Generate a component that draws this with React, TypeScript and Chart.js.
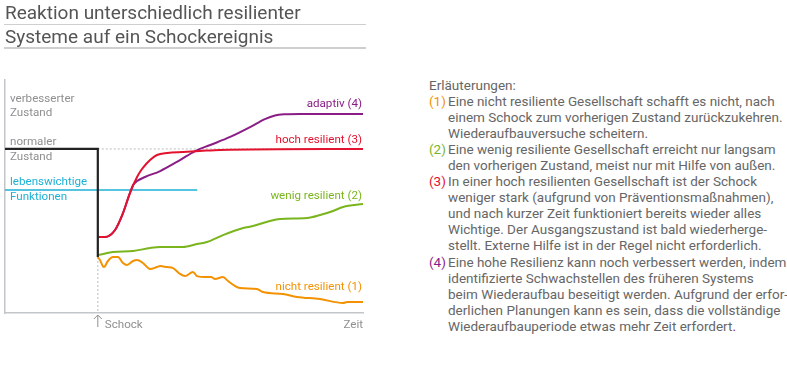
import React, { useEffect, useRef } from "react";
import { Chart, registerables } from "chart.js";

Chart.register(...registerables);

const FONT = "Roboto, 'Liberation Sans', sans-serif";

// Axes: time with the shock at 0 and the end at 100; state with the normal level at 100
const timeMin = -35;
const timeMax = 100;
const stateMin = 0;
const stateMax = 142;
const shockTime = 0;
const normalState = 100;
const shockFloor = 34.1;
const vitalLevel = 75;
const vitalEnd = 37.5;

// [time, state]
const adaptiv: [number, number][] = [
  [0, 46.3], [2.7, 46.3], [6.5, 50.6], [9.5, 60.9], [12.1, 73.1], [13.3, 78.0],
  [14.8, 80.4], [17.8, 82.9], [23.5, 86.5], [31.0, 93.2], [36.7, 98.7], [42.4, 102.4],
  [49.9, 107.3], [57.4, 113.3], [63.0, 118.2], [66.8, 120.4], [70.6, 121.1],
  [76.2, 121.3], [100, 121.3],
];
const hochResilient: [number, number][] = [
  [0, 46.3], [2.7, 46.3], [6.5, 50.6], [9.5, 60.9], [12.1, 73.1], [14.8, 82.9],
  [15.9, 85.9], [17.0, 88.4], [19.7, 93.2], [22.3, 96.3], [26.2, 97.5], [32.1, 98.1],
  [38.5, 98.7], [46.1, 99.4], [100, 100],
];
const wenigResilient: [number, number][] = [
  [0, 35.3], [2.0, 36.0], [5.6, 37.2], [13.3, 37.8], [19.7, 39.6], [23.5, 40.2],
  [32.1, 40.2], [37.4, 42.0], [41.2, 43.3], [47.2, 47.5], [54.8, 51.8], [58.5, 53.0],
  [64.9, 56.1], [68.7, 57.3], [78.9, 57.9], [83.8, 59.7], [88.7, 62.2], [92.5, 64.6],
  [100, 66.4],
];
const nichtResilient: [number, number][] = [
  [0, 34.1], [0.8, 32.3], [2.3, 28.0], [3.8, 31.7], [5.7, 34.1], [7.6, 34.1],
  [9.5, 30.5], [11.0, 29.3], [13.3, 31.7], [14.8, 32.3], [17.0, 30.5], [19.7, 26.8],
  [22.3, 28.0], [23.5, 28.6], [26.1, 28.0], [28.4, 27.4], [31.0, 23.8], [32.9, 22.5],
  [35.9, 25.0], [37.4, 22.5], [40.4, 21.9], [42.7, 21.9], [44.2, 20.7], [47.2, 21.9],
  [49.1, 19.5], [51.7, 16.5], [53.6, 15.2], [60.0, 14.6], [62.3, 12.8], [69.8, 11.6],
  [75.1, 9.8], [83.8, 8.5], [92.5, 6.1], [94.0, 6.7], [100, 6.7],
];

const seriesNames = ["adaptiv (4)", "hoch resilient (3)", "wenig resilient (2)", "nicht resilient (1)"];
const stateLabels = ["verbesserter", "Zustand", "normaler", "Zustand", "lebenswichtige", "Funktionen"];
const axisLabels = ["Schock", "Zeit"];

const titleLines = ["Reaktion unterschiedlich resilienter", "Systeme auf ein Schockereignis"];
const notesHeading = "Erläuterungen:";
const notes: { num: string; lines: string[] }[] = [
  {
    num: "(1)",
    lines: [
      "Eine nicht resiliente Gesellschaft schafft es nicht, nach",
      "einem Schock zum vorherigen Zustand zurückzukehren.",
      "Wiederaufbauversuche scheitern.",
    ],
  },
  {
    num: "(2)",
    lines: [
      "Eine wenig resiliente Gesellschaft erreicht nur langsam",
      "den vorherigen Zustand, meist nur mit Hilfe von außen.",
    ],
  },
  {
    num: "(3)",
    lines: [
      "In einer hoch resilienten Gesellschaft ist der Schock",
      "weniger stark (aufgrund von Präventionsmaßnahmen),",
      "und nach kurzer Zeit funktioniert bereits wieder alles",
      "Wichtige. Der Ausgangszustand ist bald wiederherge-",
      "stellt. Externe Hilfe ist in der Regel nicht erforderlich.",
    ],
  },
  {
    num: "(4)",
    lines: [
      "Eine hohe Resilienz kann noch verbessert werden, indem",
      "identifizierte Schwachstellen des früheren Systems",
      "beim Wiederaufbau beseitigt werden. Aufgrund der erfor-",
      "derlichen Planungen kann es sein, dass die vollständige",
      "Wiederaufbauperiode etwas mehr Zeit erfordert",
    ],
  },
];

const C_PURPLE = "#8a1d86";
const C_RED = "#e3122e";
const C_GREEN = "#7ab51d";
const C_ORANGE = "#f39200";
const C_CYAN = "#1cb1d6";
const C_BLACK = "#222222";
const C_AXIS = "#c3c6c8";
const C_TEXT = "#666666";
const C_LABEL = "#8f8f8f";
const noteColors = [C_ORANGE, C_GREEN, C_RED, C_PURPLE];

const toPts = (a: [number, number][]) => a.map(([x, y]) => ({ x, y }));
const last = (a: [number, number][]) => a[a.length - 1][1];

const labelPlugin = {
  id: "chartLabels",
  afterDatasetsDraw(chart: any) {
    const { ctx } = chart;
    const xs = chart.scales.x;
    const ys = chart.scales.y;
    ctx.save();
    ctx.font = `11.6px ${FONT}`;
    ctx.textBaseline = "middle";
    // series labels, right aligned at the end of time
    const xr = xs.getPixelForValue(timeMax) - 1;
    ctx.textAlign = "right";
    const ends = [last(adaptiv), last(hochResilient), last(wenigResilient), last(nichtResilient)];
    const offs = [-10, -9, -8, -15];
    const cols = [C_PURPLE, C_RED, C_GREEN, C_ORANGE];
    seriesNames.forEach((n, i) => {
      ctx.fillStyle = cols[i];
      ctx.fillText(n, xr, ys.getPixelForValue(ends[i]) + offs[i]);
    });
    // state labels on the left
    ctx.textAlign = "left";
    const xl = xs.getPixelForValue(timeMin) + 5;
    const yImp = ys.getPixelForValue(last(adaptiv));
    const yNorm = ys.getPixelForValue(normalState);
    const yVital = ys.getPixelForValue(vitalLevel);
    ctx.fillStyle = C_LABEL;
    ctx.fillText(stateLabels[0], xl, yImp - 15);
    ctx.fillText(stateLabels[1], xl, yImp - 1);
    ctx.fillText(stateLabels[2], xl, yNorm - 7);
    ctx.fillText(stateLabels[3], xl, yNorm + 8);
    ctx.fillStyle = C_CYAN;
    ctx.fillText(stateLabels[4], xl, yVital - 8);
    ctx.fillText(stateLabels[5], xl, yVital + 7);
    // bottom labels
    const yb = ys.getPixelForValue(stateMin);
    const xShock = xs.getPixelForValue(shockTime);
    ctx.fillStyle = C_LABEL;
    ctx.fillText(axisLabels[0], xShock + 7, yb + 12);
    ctx.textAlign = "right";
    ctx.fillText(axisLabels[1], xs.getPixelForValue(timeMax), yb + 12);
    // arrow
    ctx.strokeStyle = C_LABEL;
    ctx.lineWidth = 1;
    ctx.beginPath();
    ctx.moveTo(xShock, yb + 2);
    ctx.lineTo(xShock, yb + 14);
    ctx.moveTo(xShock - 4, yb + 6);
    ctx.lineTo(xShock, yb + 2);
    ctx.lineTo(xShock + 4, yb + 6);
    ctx.stroke();
    ctx.restore();
  },
};

function ChartCanvas() {
  const ref = useRef<HTMLCanvasElement>(null);
  useEffect(() => {
    if (!ref.current) return;
    const lineDs = (label: string, data: any[], color: string, order: number, extra: any = {}) => ({
      label,
      data,
      borderColor: color,
      backgroundColor: color,
      borderWidth: 2,
      pointRadius: 0,
      fill: false,
      order,
      ...extra,
    });
    const chart = new Chart(ref.current, {
      type: "line",
      data: {
        datasets: [
          lineDs("normal", toPts([[shockTime, normalState], [timeMax, normalState]]), "#c8c8c8", 9, {
            borderDash: [2, 2],
            borderWidth: 1.2,
          }),
          lineDs("shockline", toPts([[shockTime, shockFloor], [shockTime, stateMin]]), "#c8c8c8", 9, {
            borderDash: [2, 2],
            borderWidth: 1.2,
          }),
          lineDs("vital", toPts([[timeMin, vitalLevel], [vitalEnd, vitalLevel]]), C_CYAN, 8, { borderWidth: 1.6 }),
          lineDs(seriesNames[0], toPts(adaptiv), C_PURPLE, 5, { cubicInterpolationMode: "monotone" }),
          lineDs(seriesNames[1], toPts(hochResilient), C_RED, 4, { cubicInterpolationMode: "monotone" }),
          lineDs(seriesNames[2], toPts(wenigResilient), C_GREEN, 3, { cubicInterpolationMode: "monotone" }),
          lineDs(seriesNames[3], toPts(nichtResilient), C_ORANGE, 2, { cubicInterpolationMode: "monotone" }),
          lineDs(
            "before",
            toPts([[timeMin, normalState], [shockTime, normalState], [shockTime, shockFloor]]),
            C_BLACK,
            1,
            { borderWidth: 2.2 }
          ),
        ],
      },
      options: {
        animation: false,
        responsive: false,
        maintainAspectRatio: false,
        devicePixelRatio: 1,
        layout: { padding: { left: 5, right: 37, top: 80, bottom: 57 } },
        plugins: { legend: { display: false }, tooltip: { enabled: false } },
        events: [],
        scales: {
          x: {
            type: "linear",
            min: timeMin,
            max: timeMax,
            grid: { display: false, drawTicks: false },
            ticks: { display: false },
            border: { display: true, color: C_AXIS, width: 1.5 },
          },
          y: {
            type: "linear",
            min: stateMin,
            max: stateMax,
            grid: { display: false, drawTicks: false },
            ticks: { display: false },
            border: { display: true, color: C_AXIS, width: 1.5 },
          },
        },
      },
      plugins: [labelPlugin],
    } as any);
    return () => chart.destroy();
  }, []);
  return (
    <canvas
      ref={ref}
      width={400}
      height={370}
      style={{ position: "absolute", left: 0, top: 0, width: 400, height: 370 }}
    />
  );
}

export default function App() {
  const lineH = 16.1;
  return (
    <div
      style={{
        position: "fixed",
        left: 0,
        top: 0,
        width: 787,
        height: 370,
        background: "#fff",
        fontFamily: FONT,
        overflow: "hidden",
      }}
    >
      <ChartCanvas />
      {titleLines.map((t, i) => (
        <React.Fragment key={i}>
          <div
            style={{
              position: "absolute",
              left: 5,
              top: 1 + i * 23.6,
              fontSize: 19,
              lineHeight: "24px",
              color: "#555",
              whiteSpace: "nowrap",
            }}
          >
            {t}
          </div>
          <div
            style={{
              position: "absolute",
              left: 4,
              top: 23.5 + i * 23.6,
              width: 362,
              height: 1.5,
              background: "#cfcfcf",
            }}
          />
        </React.Fragment>
      ))}
      <div
        style={{
          position: "absolute",
          left: 429,
          top: 76.5,
          fontSize: 13.5,
          lineHeight: `${lineH}px`,
          color: C_TEXT,
          whiteSpace: "nowrap",
        }}
      >
        <div>{notesHeading}</div>
        {notes.map((n, i) => (
          <div key={i} style={{ position: "relative", paddingLeft: 19 }}>
            <span style={{ position: "absolute", left: 0, top: 0, color: noteColors[i] }}>{n.num}</span>
            {n.lines.map((l, j) => (
              <div key={j}>
                {l}
                {i === notes.length - 1 && j === n.lines.length - 1 ? (
                  <span style={{ color: C_PURPLE }}>.</span>
                ) : null}
              </div>
            ))}
          </div>
        ))}
      </div>
    </div>
  );
}
